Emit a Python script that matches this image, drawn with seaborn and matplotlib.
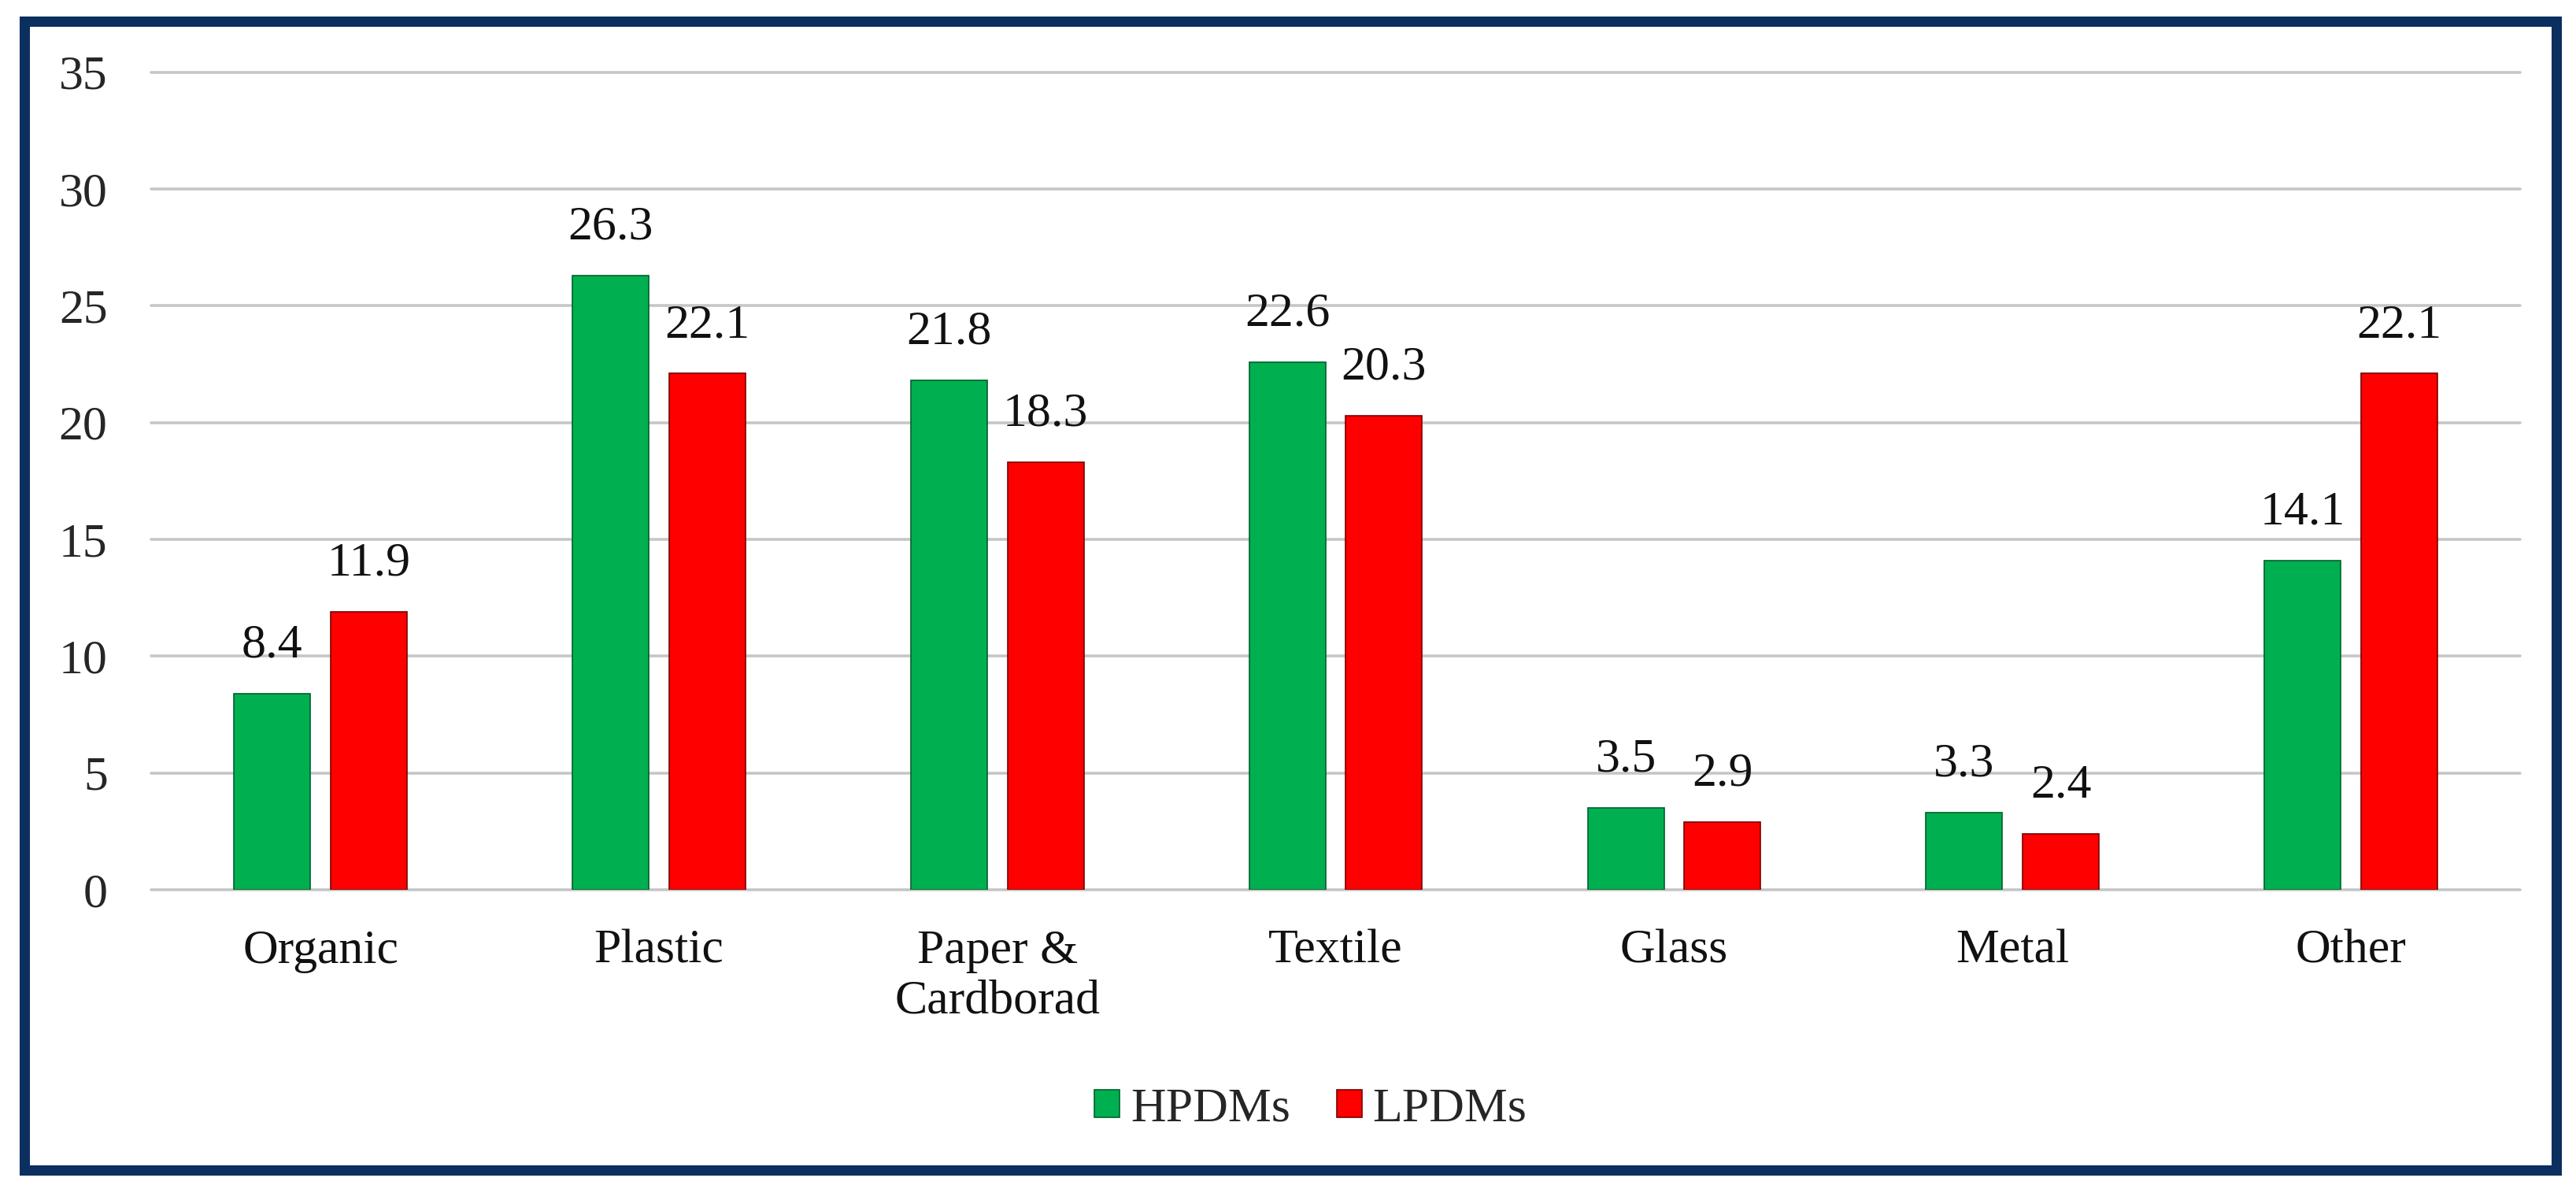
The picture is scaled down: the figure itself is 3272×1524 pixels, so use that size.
import pandas as pd
import seaborn as sns
import matplotlib.pyplot as plt
from matplotlib.patches import Rectangle

categories = ['Organic', 'Plastic', 'Paper &\nCardborad', 'Textile', 'Glass', 'Metal', 'Other']
hpdms = [8.4, 26.3, 21.8, 22.6, 3.5, 3.3, 14.1]
lpdms = [11.9, 22.1, 18.3, 20.3, 2.9, 2.4, 22.1]
groups = ['HPDMs', 'LPDMs']
yticks = [0, 5, 10, 15, 20, 25, 30, 35]

df = pd.DataFrame({
    'Category': categories * 2,
    'Value': hpdms + lpdms,
    'Group': [groups[0]] * len(hpdms) + [groups[1]] * len(lpdms),
})

sns.set_style('white')
plt.rcParams['font.family'] = ['Liberation Serif', 'DejaVu Serif']
FS = 22.3

fig = plt.figure(figsize=(16.365, 7.62), dpi=200)
ax = fig.add_axes([0.0587, 0.2585, 0.9193, 0.6814])

colors = {'HPDMs': '#00B050', 'LPDMs': '#FF0000'}
edges = {'HPDMs': '#00602c', 'LPDMs': '#7a0000'}
sns.barplot(data=df, x='Category', y='Value', hue='Group', hue_order=groups,
            palette=colors, width=0.571, gap=0.21, saturation=1, ax=ax)

for cont, g in zip(ax.containers, groups):
    for bar in cont:
        bar.set_edgecolor(edges[g])
        bar.set_linewidth(0.6)
    ax.bar_label(cont, fmt='%.1f', padding=12, fontsize=FS, color='#111111')

ax.set_ylim(0, 35)
ax.set_xlim(-0.5, len(categories) - 0.5)
ax.set_yticks(yticks)
ax.yaxis.grid(True, color='#c6c6c6', linewidth=1.3)
for gl in ax.get_ygridlines():
    gl.set_clip_on(False)
ax.set_axisbelow(True)
for s in ax.spines.values():
    s.set_visible(False)
ax.tick_params(axis='y', length=0, pad=20, labelsize=FS, labelcolor='#262626')
ax.tick_params(axis='x', length=0, pad=18, labelsize=FS, labelcolor='#111111')
ax.set_xlabel('')
ax.set_ylabel('')

leg = ax.legend(loc='center', bbox_to_anchor=(0.5086, 0.0755), bbox_transform=fig.transFigure,
                ncol=2, frameon=False, fontsize=FS, handlelength=0.52, handleheight=0.5,
                handletextpad=0.22, columnspacing=0.95)
for h, g in zip(leg.legend_handles, groups):
    h.set_edgecolor(edges[g])
    h.set_linewidth(0.6)

# dark blue frame round the whole chart
fig.patches.append(Rectangle((0.00962, 0.02461), 0.98244, 0.958, transform=fig.transFigure,
                             fill=False, edgecolor='#0b2f5e', linewidth=4.7))

fig.savefig('out.png', dpi=200, facecolor='white')
